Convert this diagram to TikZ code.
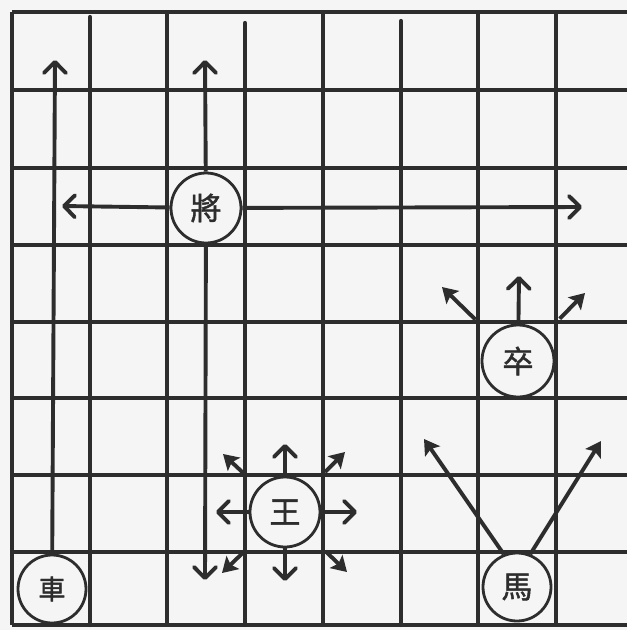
\documentclass[tikz,border=0pt]{standalone}
\usepackage{fontspec}
\newfontfamily\cjk[FakeBold=1.5]{Noto Sans CJK TC}
\usetikzlibrary{arrows.meta}
\definecolor{ink}{RGB}{45,45,45}
\definecolor{paper}{RGB}{245,245,245}
\begin{document}
\begin{tikzpicture}[x=1pt,y=-1pt,
  gridline/.style={ink, line width=4.2pt},
  piece/.style={circle, draw=ink, line width=2.8pt, fill=paper, minimum size=70pt, inner sep=0pt,
    font=\cjk\fontsize{31}{31}\selectfont, text=ink},
  mv/.style={ink, line width=3.9pt, -{Straight Barb[length=11pt,width=22pt,line cap=round,line join=round]}},
  dg/.style={ink, line width=3.9pt, -{Stealth[length=15pt,width=18pt,inset=3pt]}}]
\fill[paper] (0,0) rectangle (627,630);
\useasboundingbox (0,0) rectangle (627,630);
% grid
\foreach \y in {12,90,168,245,322,398,475,552,625}
  \draw[gridline] (12,\y) -- (627,\y);
\foreach \x in {12,167,323,478,556}
  \draw[gridline] (\x,12) -- (\x,625);
\draw[gridline,line cap=round] (90,17) -- (90,625);
\draw[gridline,line cap=round] (245,23) -- (245,625);
\draw[gridline,line cap=round] (401,21) -- (401,625);
% pieces
\node[piece] (jiang) at (206,208) {將};
\node[piece, minimum size=68pt, font=\cjk\fontsize{27}{27}\selectfont] (che) at (52,589) {車};
\node[piece] (wang) at (285,512) {王};
\node[piece, minimum size=72pt] (zu) at (518,361) {卒};
\node[piece, minimum size=68pt] (ma) at (517,587) {馬};
% move targets
\coordinate (jU) at (205,60);
\coordinate (jL) at (62,206);
\coordinate (jR) at (582,207);
\coordinate (jD) at (205,580);
\coordinate (cU) at (55,60);
\coordinate (wU) at (285,444);
\coordinate (wD) at (285,581);
\coordinate (wL) at (216,512);
\coordinate (wR) at (357,512);
\coordinate (wNE) at (345,452);
\coordinate (wNW) at (223,454);
\coordinate (wSW) at (222,573);
\coordinate (wSE) at (347,572);
\coordinate (zU) at (519,276);
\coordinate (zNW) at (442,287);
\coordinate (zNE) at (585,293);
\coordinate (mL) at (424,439);
\coordinate (mR) at (601,441);
% moves
\draw[mv] (jiang) -- (jU);
\draw[mv] (jiang) -- (jL);
\draw[mv] (jiang) -- (jR);
\draw[mv] (jiang) -- (jD);
\draw[mv] (che) -- (cU);
\draw[mv] (wang) -- (wU);
\draw[mv] (wang) -- (wD);
\draw[mv] (wang) -- (wL);
\draw[mv] (wang) -- (wR);
\draw[dg, shorten <=20pt] (wang) -- (wNE);
\draw[dg, shorten <=20pt] (wang) -- (wNW);
\draw[dg, shorten <=20pt] (wang) -- (wSW);
\draw[dg, shorten <=20pt] (wang) -- (wSE);
\draw[mv] (zu) -- (zU);
\draw[dg, shorten <=22pt] (zu) -- (zNW);
\draw[dg, shorten <=22pt] (zu) -- (zNE);
\draw[dg] (ma.112) -- (mL);
\draw[dg] (ma.68) -- (mR);
\end{tikzpicture}
\end{document}
